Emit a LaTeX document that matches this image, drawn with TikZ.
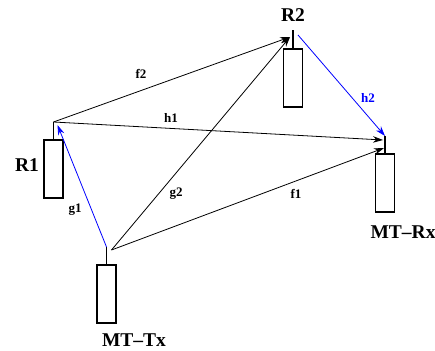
\documentclass[tikz,border=0pt]{standalone}
\usepackage{fontspec}
\setmainfont{Liberation Serif}
\usepackage{xcolor}
\definecolor{linkblue}{RGB}{0,0,255}
\usetikzlibrary{arrows.meta,positioning,calc}

\begin{document}
\begin{tikzpicture}[x=1pt,y=-1pt,
  antbox/.style={rectangle, draw=black, line width=1.6pt, fill=white,
                 minimum width=19pt, minimum height=58pt, inner sep=0pt},
  mast/.style={line width=1.6pt},
  stname/.style={font=\fontsize{19.5}{22}\selectfont\bfseries, inner sep=1pt},
  lnk/.style={font=\fontsize{13}{15}\selectfont\bfseries},
  larr/.style={-{Stealth[length=10pt,width=6.5pt]}, line width=0.8pt}
]
\useasboundingbox (0,0) rectangle (435,350);

% Antennas
\node[antbox] (r1box) at (53.5,169) {};
\node[antbox] (r2box) at (293,78) {};
\node[antbox] (rxbox) at (385,183) {};
\node[antbox] (txbox) at (106.5,294) {};

% Mast tips
\coordinate (r1) at (53.5,122);
\coordinate (r2) at (293,30);
\coordinate (rx) at (385,136);
\coordinate (tx) at (106.5,247);
\draw[mast] (r1box.north) -- (r1);
\draw[mast] (r2box.north) -- (r2);
\draw[mast] (rxbox.north) -- (rx);
\draw[mast] (txbox.north) -- (tx);

% Station names
\node[stname] (r1lbl) at (27,165) {R1};
\node[stname] (r2lbl) at (293,15) {R2};
\node[stname] (rxlbl) at (403,232) {MT--Rx};
\node[stname] (txlbl) at (134,340) {MT--Tx};

% Links
\coordinate (txa) at ($(tx)+(5,3)$);
\coordinate (r1a) at ($(r1)+(4,3)$);
\coordinate (r2a) at ($(r2)+(-3,7)$);
\coordinate (r2b) at ($(r2)+(5,5)$);
\coordinate (rxa) at ($(rx)+(-2,4)$);
\coordinate (rxb) at ($(rx)+(-1,12)$);
\draw[larr, draw=linkblue] (tx) -- (r1a);
\draw[larr] (txa) -- (r2a);
\draw[larr] (txa) -- (rxb);
\draw[larr] (r1) -- (r2a);
\draw[larr] (r1) -- (rxa);
\draw[larr, draw=linkblue] (r2b) -- (rx);

% Link labels
\node[lnk] (g1) at (75,210) {g1};
\node[lnk] (g2) at (176,194) {g2};
\node[lnk] (f1) at (296,194) {f1};
\node[lnk] (f2) at (141,74) {f2};
\node[lnk] (h1) at (171,118) {h1};
\node[lnk, text=linkblue] (h2) at (368,98) {h2};
\end{tikzpicture}
\end{document}
